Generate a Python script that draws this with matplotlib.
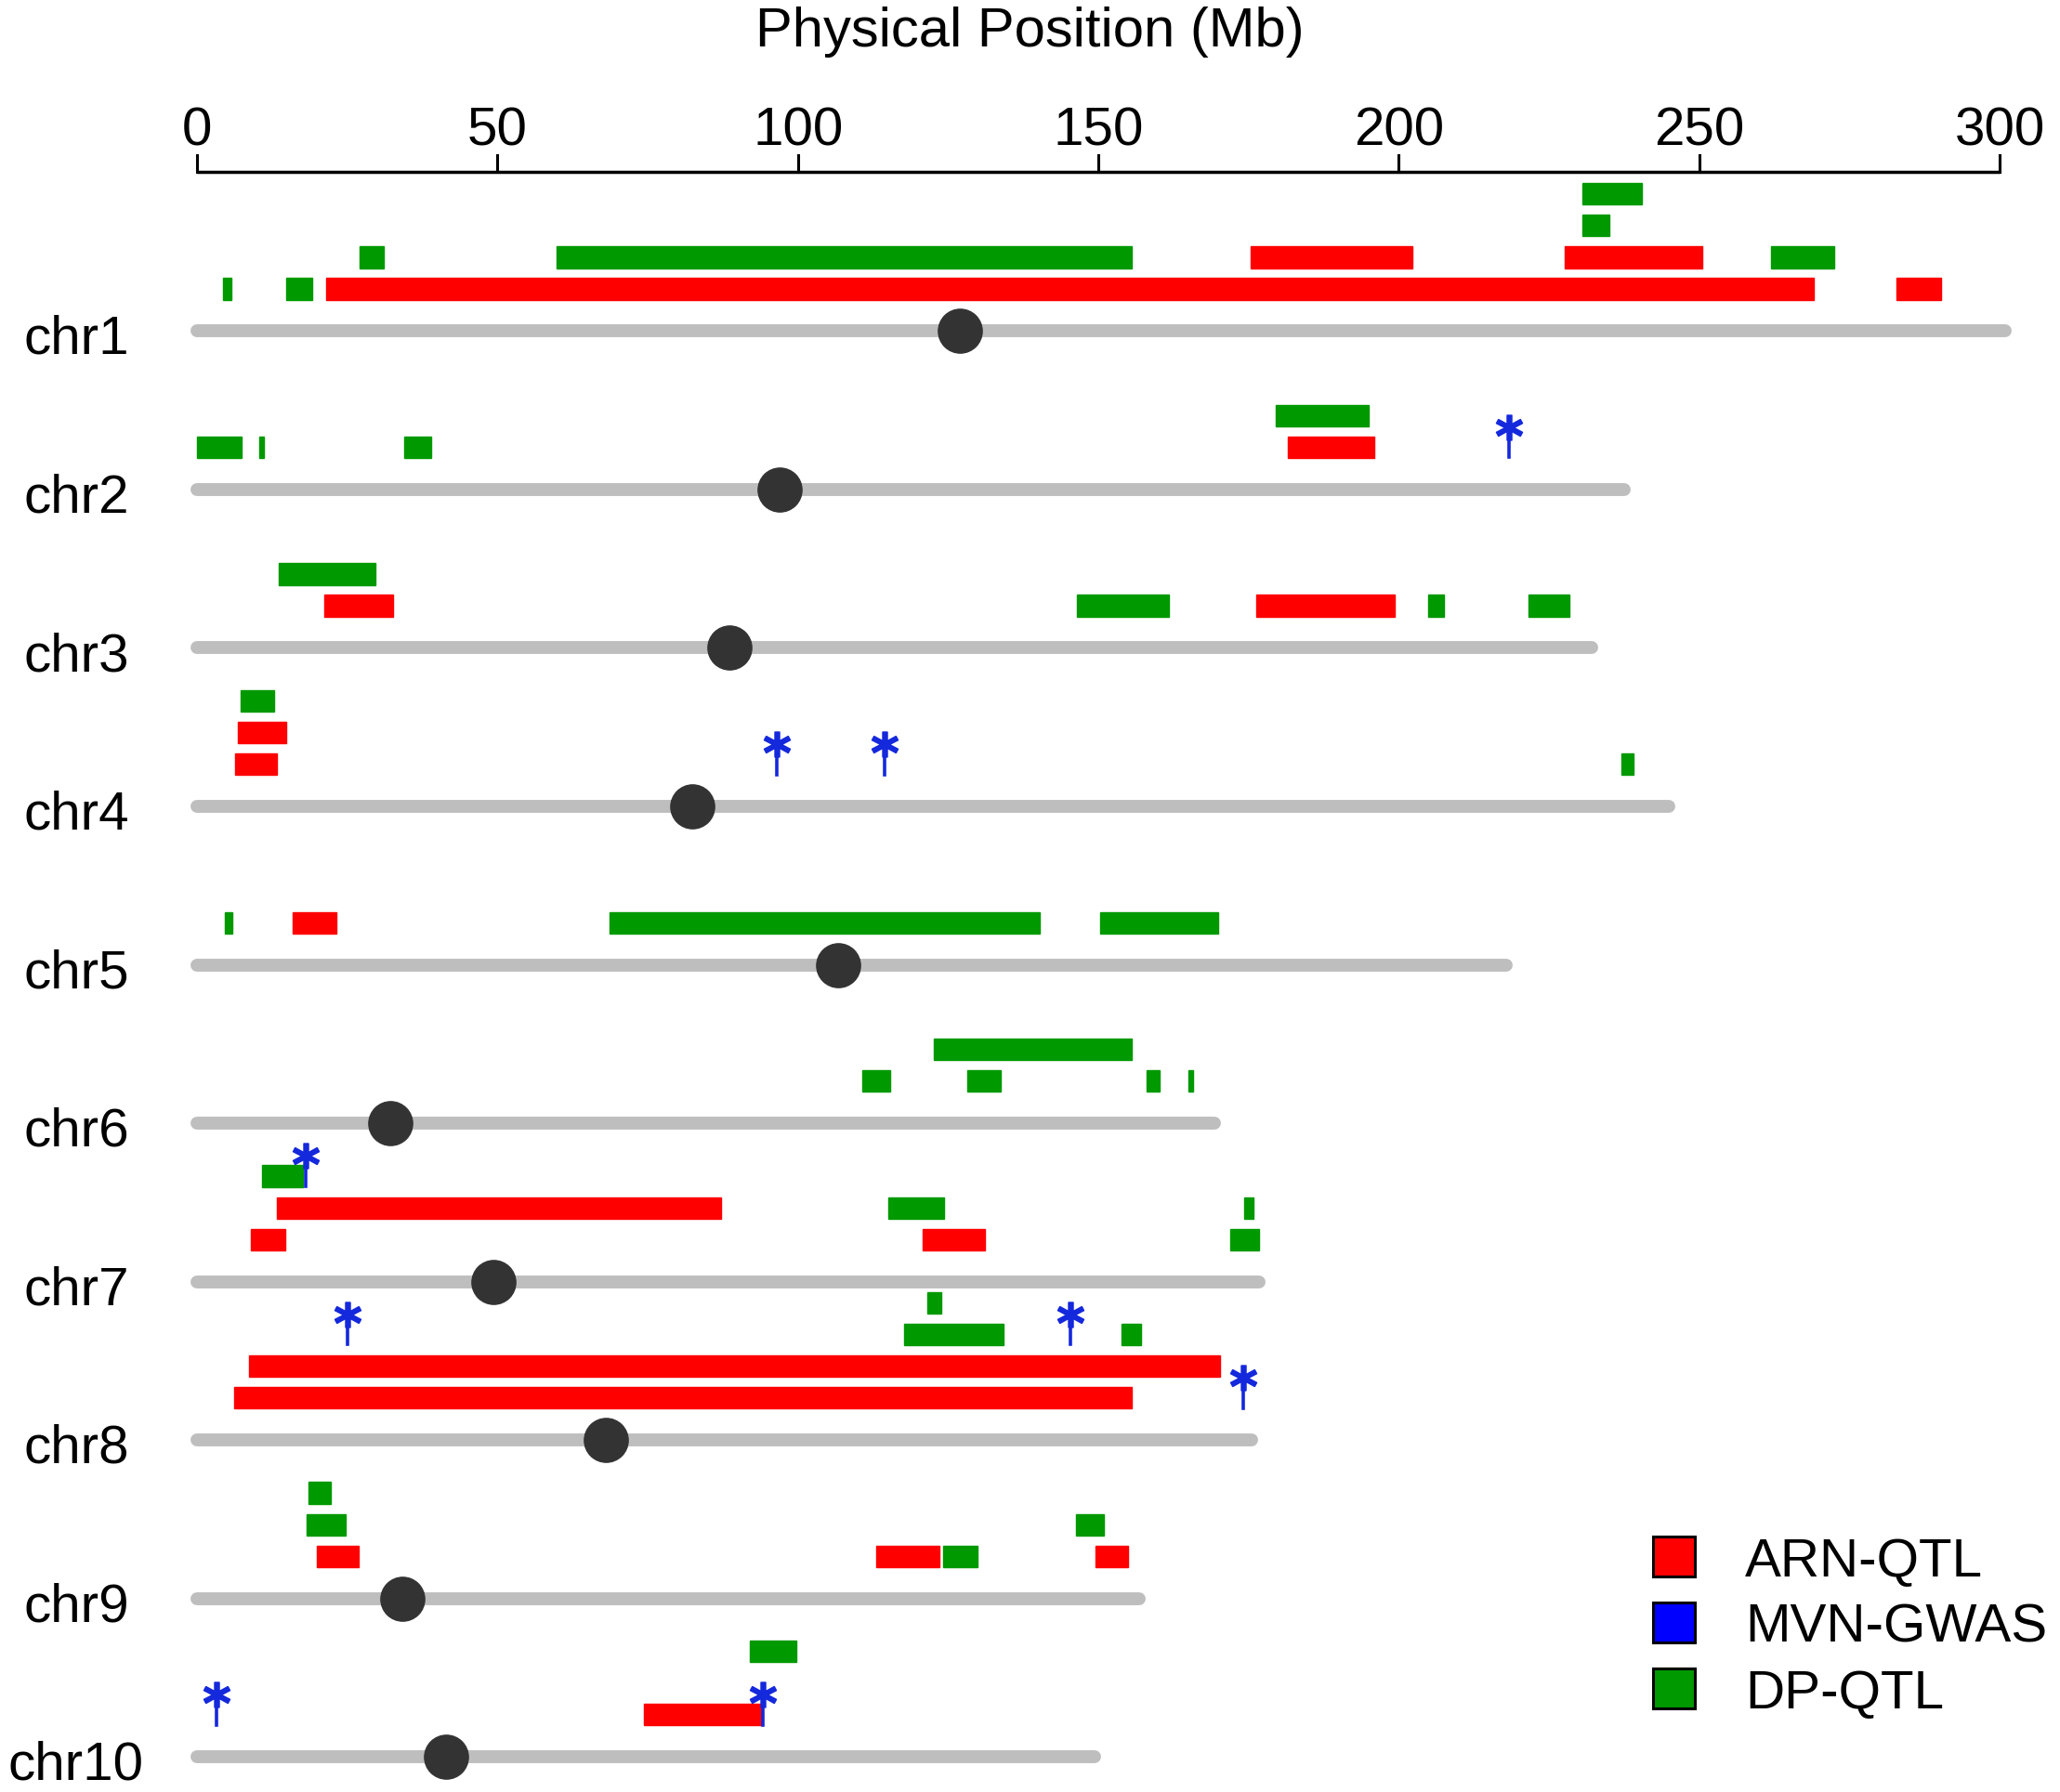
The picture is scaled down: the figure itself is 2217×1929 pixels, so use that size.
import numpy as np
import matplotlib
matplotlib.use("Agg")
import matplotlib.pyplot as plt
from matplotlib.patches import Rectangle

plt.rcParams['font.family'] = ['Liberation Sans', 'DejaVu Sans']

# chromosome info (Mb)
chroms = ['chr1', 'chr2', 'chr3', 'chr4', 'chr5', 'chr6', 'chr7', 'chr8', 'chr9', 'chr10']
chrom_len = [301.0, 237.5, 232.1, 245.0, 217.9, 169.3, 176.7, 175.5, 156.8, 149.4]
centromere = [127.0, 96.9, 88.6, 82.5, 106.7, 32.2, 49.4, 68.0, 34.2, 41.5]

# (chromosome index, start Mb, end Mb, track row above the chromosome)
arn_qtl = [
    (0, 21.5, 269.1, 1), (0, 282.8, 290.3, 1), (0, 175.3, 202.3, 2), (0, 227.6, 250.5, 2),
    (1, 181.6, 195.9, 1),
    (2, 21.2, 32.6, 1), (2, 176.3, 199.4, 1),
    (3, 6.3, 13.3, 1), (3, 6.8, 14.9, 2),
    (4, 16.0, 23.2, 1),
    (6, 8.9, 14.7, 1), (6, 120.8, 131.2, 1), (6, 13.3, 87.2, 2),
    (7, 6.2, 155.5, 1), (7, 8.7, 170.2, 2),
    (8, 19.9, 26.9, 1), (8, 113.0, 123.6, 1), (8, 149.6, 154.9, 1),
    (9, 74.4, 94.2, 1),
]

dp_qtl = [
    (0, 4.4, 5.8, 1), (0, 14.9, 19.2, 1), (0, 27.1, 31.1, 2), (0, 59.8, 155.6, 2),
    (0, 261.9, 272.4, 2), (0, 230.5, 235.1, 3), (0, 230.5, 240.5, 4),
    (1, 0.0, 7.5, 1), (1, 10.4, 11.2, 1), (1, 34.5, 38.9, 1), (1, 179.5, 195.0, 2),
    (2, 146.5, 161.8, 1), (2, 204.9, 207.5, 1), (2, 221.6, 228.4, 1), (2, 13.6, 29.7, 2),
    (3, 237.1, 239.1, 1), (3, 7.2, 12.9, 3),
    (4, 4.6, 5.9, 1), (4, 68.7, 140.2, 1), (4, 150.3, 170.0, 1),
    (5, 110.7, 115.3, 1), (5, 128.2, 133.7, 1), (5, 158.0, 160.2, 1), (5, 165.0, 165.7, 1),
    (5, 122.6, 155.5, 2),
    (6, 171.9, 176.8, 1), (6, 115.0, 124.4, 2), (6, 174.3, 175.9, 2), (6, 10.9, 17.7, 3),
    (7, 117.7, 134.3, 3), (7, 153.8, 157.1, 3), (7, 121.6, 123.8, 4),
    (8, 124.2, 129.9, 1), (8, 18.2, 24.7, 2), (8, 146.3, 150.9, 2), (8, 18.6, 22.3, 3),
    (9, 92.0, 99.8, 3),
]

# (chromosome index, position Mb, track row)
mvn_gwas = [
    (1, 218.4, 1),
    (3, 96.5, 1), (3, 114.4, 1),
    (6, 18.1, 3),
    (7, 25.0, 3), (7, 145.3, 3), (7, 174.1, 1),
    (9, 3.2, 1), (9, 94.2, 1),
]

ticks = [0, 50, 100, 150, 200, 250, 300]
legend_labels = ['ARN-QTL', 'MVN-GWAS', 'DP-QTL']
legend_colors = ['#FF0000', '#0000FF', '#009900']

RED = '#FF0000'
GREEN = '#009900'
STAR = '#1428dc'
SPACING = 5.0
BAR_H = 0.68


def row_y(ci, row):
    return ci * SPACING - (row + 0.33)


fig = plt.figure(figsize=(22.17, 19.29), dpi=100)
ax = fig.add_axes([0, 0, 1, 1])
ax.set_xlim(-32.78, 310.05)
ax.set_ylim(46.11, -10.45)
ax.axis('off')

# chromosomes
for i, name in enumerate(chroms):
    y = i * SPACING
    ax.plot([0, chrom_len[i]], [y, y], color='#BEBEBE', lw=10, solid_capstyle='round', zorder=1)
    ax.plot(centromere[i], y, 'o', color='#333333', ms=34, zorder=3)
    ax.text(-20.1, y + 0.72, name, fontsize=42, ha='center', va='baseline')

# QTL bars
for data, col in [(arn_qtl, RED), (dp_qtl, GREEN)]:
    ys = [row_y(c, r) for c, s, e, r in data]
    lefts = [s for c, s, e, r in data]
    widths = [e - s for c, s, e, r in data]
    ax.barh(ys, widths, left=lefts, height=BAR_H, color=col, edgecolor=col,
            linewidth=1, zorder=2)

# GWAS markers
for c, pos, r in mvn_gwas:
    yc = row_y(c, r)
    ax.plot([pos, pos], [yc + 0.32, yc - 0.35], color=STAR, lw=2.6, zorder=4)
    ax.plot(pos, yc - 0.64, marker=r'$\mathbf{*}$', color=STAR, ms=20, mew=1.2, zorder=4)

# top scale axis
axis_y = -5.04
ax.plot([0, 300], [axis_y, axis_y], color='black', lw=2.5, solid_capstyle='butt')
for t in ticks:
    ax.plot([t, t], [axis_y, axis_y - 0.5], color='black', lw=2.2)
    ax.text(t, -5.85, str(t), fontsize=42, ha='center', va='baseline')

fig.text(0.5, 0.9743, 'Physical Position (Mb)', fontsize=43, ha='center', va='baseline')

# legend
for k, (lab, col) in enumerate(zip(legend_labels, legend_colors)):
    base = 0.1203 - k * 0.0367
    fig.patches.append(Rectangle((0.8024, base), 0.0203, 0.0223, transform=fig.transFigure,
                                 facecolor=col, edgecolor='black', linewidth=2.2))
    fig.text(0.847, base, lab, fontsize=42, ha='left', va='baseline')

fig.savefig('out.png', dpi=100, facecolor='white')
